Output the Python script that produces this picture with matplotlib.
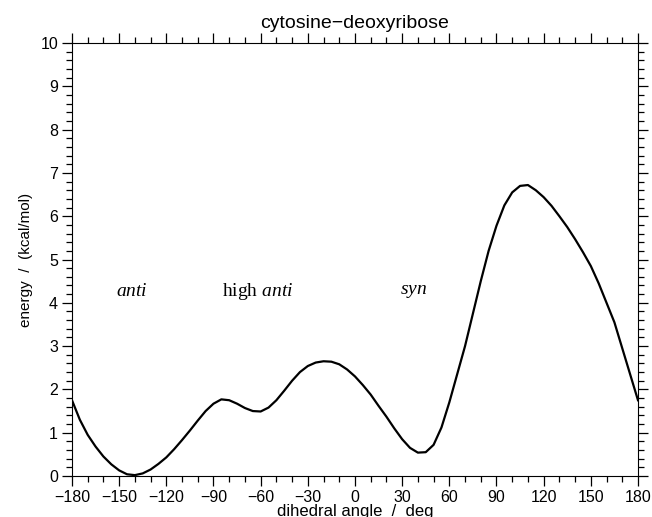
import matplotlib
matplotlib.use('Agg')
import matplotlib.pyplot as plt
from matplotlib.ticker import MultipleLocator

angle = list(range(-180, 181, 5))
energy = [1.75, 1.30, 0.95, 0.68, 0.45, 0.27, 0.13, 0.04, 0.02, 0.06,
          0.15, 0.28, 0.43, 0.62, 0.83, 1.05, 1.28, 1.50, 1.67, 1.77,
          1.75, 1.67, 1.57, 1.50, 1.49, 1.58, 1.75, 1.97, 2.20, 2.40,
          2.54, 2.62, 2.65, 2.64, 2.58, 2.46, 2.30, 2.10, 1.88, 1.62,
          1.37, 1.10, 0.85, 0.65, 0.54, 0.55, 0.72, 1.12, 1.70, 2.35,
          3.00, 3.75, 4.50, 5.20, 5.78, 6.25, 6.55, 6.70, 6.72, 6.60,
          6.44, 6.24, 6.00, 5.75, 5.47, 5.17, 4.85, 4.45, 4.00, 3.55,
          2.95, 2.35, 1.75]

regions = ['$anti$', 'high $anti$', '$syn$']
region_x = [-142, -62, 37]
region_y = 4.25

plt.rcParams['font.family'] = 'Liberation Sans'
plt.rcParams['mathtext.fontset'] = 'custom'
plt.rcParams['mathtext.it'] = 'Liberation Serif:italic'
plt.rcParams['mathtext.rm'] = 'Liberation Serif'

fig = plt.figure(figsize=(6.52, 5.17), dpi=100)
ax = fig.add_axes([0.1104, 0.0793, 0.8681, 0.8375])

ax.plot(angle, energy, color='black', lw=1.6)

for lab, x in zip(regions, region_x):
    ax.text(x, region_y, lab, ha='center', va='center', fontsize=14,
            family='Liberation Serif')

ax.set_xlim(-180, 180)
ax.set_ylim(0, 10)
ax.xaxis.set_major_locator(MultipleLocator(30))
ax.xaxis.set_minor_locator(MultipleLocator(10))
ax.yaxis.set_major_locator(MultipleLocator(1))
ax.yaxis.set_minor_locator(MultipleLocator(0.2))
ax.tick_params(which='both', direction='out', top=True, right=True,
               labelsize=11.5, width=0.9, pad=3)
ax.tick_params(which='major', length=7)
ax.tick_params(which='minor', length=4)

ax.set_title('cytosine\u2212deoxyribose', fontsize=14, pad=11)
ax.set_xlabel('dihedral angle  /  deg', fontsize=12, labelpad=-1)
ax.set_ylabel('energy  /  (kcal/mol)', fontsize=11, labelpad=5)

fig.savefig('out.png', dpi=100)
